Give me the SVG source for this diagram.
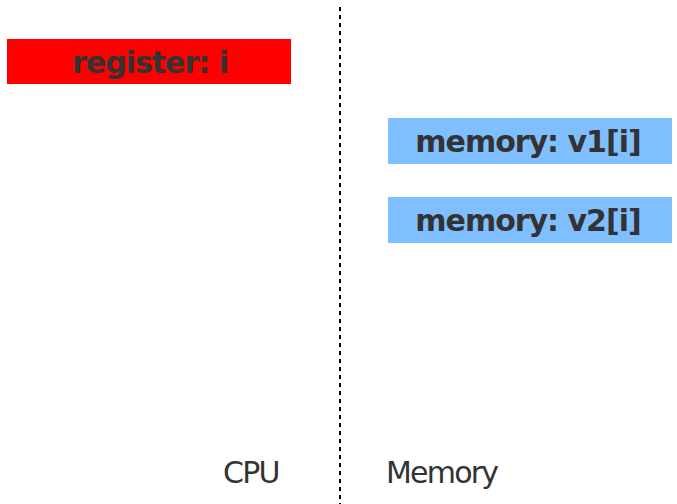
<svg xmlns="http://www.w3.org/2000/svg" width="677" height="504" viewBox="0 0 677 504">
<style>
.lbl{font-family:"DejaVu Sans",Verdana,sans-serif;font-weight:bold;font-size:30px;letter-spacing:-1px;fill:#333;text-anchor:middle}
.cap{font-family:"DejaVu Sans",Verdana,sans-serif;font-size:30px;letter-spacing:-1.8px;fill:#333}
.mem{fill:#80BFFF}
</style>
<rect width="677" height="504" fill="#fff"/>
<g id="divider"><line x1="340" y1="7" x2="340" y2="504" stroke="#000" stroke-width="2" stroke-dasharray="4,4"/></g>
<g id="register">
<rect x="7" y="39" width="284" height="45" fill="#FF0000"/>
<text class="lbl" x="150" y="73">register: i</text>
</g>
<g id="v1">
<rect class="mem" x="388" y="118" width="284" height="46"/>
<text class="lbl" x="528" y="152">memory: v1[i]</text>
</g>
<g id="v2">
<rect class="mem" x="388" y="197" width="284" height="46"/>
<text class="lbl" x="528" y="231">memory: v2[i]</text>
</g>
<g id="labels">
<text class="cap" x="223" y="483">CPU</text>
<text class="cap" x="386" y="483">Memory</text>
</g>
</svg>
